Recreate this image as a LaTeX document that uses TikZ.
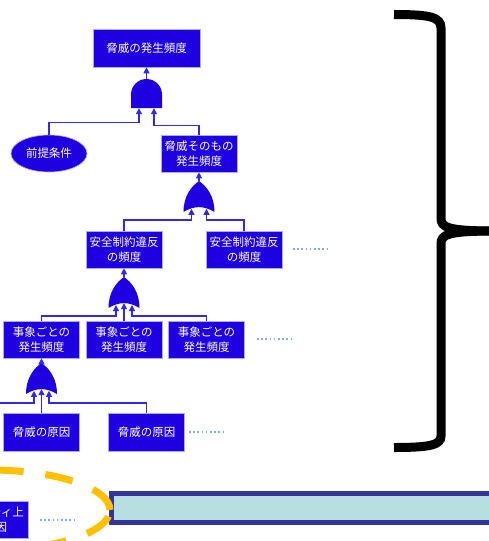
\documentclass[tikz,border=0pt]{standalone}
\usepackage{fontspec}
\setmainfont{Noto Sans CJK JP}
\usetikzlibrary{shapes.geometric,arrows.meta,calc}
\definecolor{boxblue}{RGB}{30,0,225}
\definecolor{boxedge}{RGB}{170,170,255}
\definecolor{lineblue}{RGB}{50,40,235}
\definecolor{dotblue}{RGB}{130,170,225}
\definecolor{brdark}{RGB}{51,51,153}
\definecolor{brlight}{RGB}{183,223,226}
\definecolor{ydash}{RGB}{255,192,0}
\tikzset{
 fbox/.style={rectangle, fill=boxblue, draw=boxedge, line width=0.6pt, text=white,
   minimum width=76pt, minimum height=37pt, inner sep=0pt, align=center,
   font=\fontsize{11.5}{15}\selectfont},
 fell/.style={fbox, ellipse},
 gatebox/.style={rectangle, inner sep=0pt, minimum width=31pt, minimum height=31pt},
 conn/.style={draw=lineblue, line width=1.2pt},
 arr/.style={conn, -{Triangle[width=6pt,length=6pt]}},
 dotline/.style={draw=dotblue, line width=1.6pt, dash pattern=on 1.6pt off 2.6pt},
 bracestroke/.style={draw=black, line width=9pt},
 hilite/.style={draw=ydash, line width=7pt, dash pattern=on 28pt off 22pt},
}
\newcommand\ORgate[1]{\fill[boxblue,shift={(#1.center)}] (-15.5,-15.5) .. controls (-15.5,0) and (-8,10) .. (0,15.5) .. controls (8,10) and (15.5,0) .. (15.5,-15.5) .. controls (5,-9) and (-5,-9) .. (-15.5,-15.5) -- cycle;}
\newcommand\ANDgate[1]{\fill[boxblue,shift={(#1.center)}] (-15.5,-14.5) -- (-15.5,-1) arc[start angle=180,end angle=0,radius=15.5] -- (15.5,-14.5) -- cycle;}
\begin{document}
\begin{tikzpicture}[x=1pt,y=1pt]
\useasboundingbox (0,0) rectangle (489,-541);
\clip (0,0) rectangle (489,-541);
% nodes
\node[fbox, minimum width=107pt, minimum height=38pt] (top) at (146.5,-48) {脅威の発生頻度};
\node[gatebox, minimum height=29pt] (g1) at (146.5,-93.5) {};
\node[fell] (pre) at (49,-153.5) {前提条件};
\node[fbox] (th) at (199,-153.5) {脅威そのもの\\発生頻度};
\node[gatebox] (g2) at (199,-196.5) {};
\node[fbox] (s1) at (124,-249.5) {安全制約違反\\の頻度};
\node[fbox] (s2) at (244,-249.5) {安全制約違反\\の頻度};
\node[gatebox] (g3) at (124,-292.5) {};
\node[fbox] (e1) at (41.5,-339.5) {事象ごとの\\発生頻度};
\node[fbox] (e2) at (124,-339.5) {事象ごとの\\発生頻度};
\node[fbox] (e3) at (206.5,-339.5) {事象ごとの\\発生頻度};
\node[gatebox] (g4) at (41.5,-378.5) {};
\node[fbox, minimum height=38pt] (c1) at (41.5,-432) {脅威の原因};
\node[fbox, minimum height=38pt] (c2) at (146.5,-432) {脅威の原因};
\node[fbox] (sf) at (-10,-519.5) {セーフティ上\\の原因};
% gates
\ANDgate{g1}
\ORgate{g2}
\ORgate{g3}
\ORgate{g4}
% gate inputs
\coordinate (g1a) at ($(g1.south)+(-7.5,0)$);
\coordinate (g1b) at ($(g1.south)+(7.5,0)$);
\coordinate (g2a) at ($(g2.center)+(-7.5,-12.3)$);
\coordinate (g2b) at ($(g2.center)+(7.5,-12.3)$);
\coordinate (g3a) at ($(g3.center)+(-8,-12.5)$);
\coordinate (g3m) at ($(g3.center)+(0,-10.6)$);
\coordinate (g3b) at ($(g3.center)+(8,-12.5)$);
\coordinate (g4a) at ($(g4.center)+(-7.5,-12.3)$);
\coordinate (g4m) at ($(g4.center)+(0,-10.6)$);
\coordinate (g4b) at ($(g4.center)+(7.5,-12.3)$);
\coordinate (offl) at (-5,-403);
% connectors
\draw[arr] (g1.north) -- (top.south);
\draw[arr] (pre.north) |- ($(g1a)+(0,-14)$) -- (g1a);
\draw[arr] (th.north) |- ($(g1b)+(0,-17)$) -- (g1b);
\draw[arr] (g2.north) -- (th.south);
\draw[arr] (s1.north) |- ($(g2.center)+(-7.5,-23.5)$) -- (g2a);
\draw[arr] (s2.north) |- ($(g2.center)+(7.5,-23.5)$) -- (g2b);
\draw[arr] (g3.north) -- (s1.south);
\draw[arr] (e1.north) |- ($(g3.center)+(-8,-23.5)$) -- (g3a);
\draw[arr] (e2.north) -- (g3m);
\draw[arr] (e3.north) |- ($(g3.center)+(8,-23.5)$) -- (g3b);
\draw[arr] (g4.north) -- (e1.south);
\draw[arr] (offl) -| (g4a);
\draw[arr] (c1.north) -- (g4m);
\draw[arr] (c2.north) |- ($(g4.center)+(7.5,-24.5)$) -- (g4b);
% continuation dots
\coordinate (d1a) at (293,-249); \coordinate (d1b) at (330,-249);
\coordinate (d2a) at (257,-339); \coordinate (d2b) at (293,-339);
\coordinate (d3a) at (189,-432); \coordinate (d3b) at (226,-432);
\coordinate (d4a) at (40,-520);  \coordinate (d4b) at (76,-520);
\draw[dotline] (d1a) -- (d1b);
\draw[dotline] (d2a) -- (d2b);
\draw[dotline] (d3a) -- (d3b);
\draw[dotline] (d4a) -- (d4b);
% brace
\draw[bracestroke] (394,-14.5) .. controls (430,-14.5) and (441,-17) .. (441,-28) -- (441,-218) .. controls (441,-227) and (446,-231) .. (495,-231);
\draw[bracestroke] (495,-231) .. controls (446,-231) and (441,-235) .. (441,-244) -- (441,-436) .. controls (441,-445) and (430,-447.5) .. (394,-447.5);
% bottom bar
\draw[draw=brdark, line width=5pt, fill=brlight] (111.5,-493.5) rectangle (500,-522.5);
% highlight ellipse
\draw[hilite] (-10,-510) ellipse [x radius=120, y radius=40];
\end{tikzpicture}
\end{document}
